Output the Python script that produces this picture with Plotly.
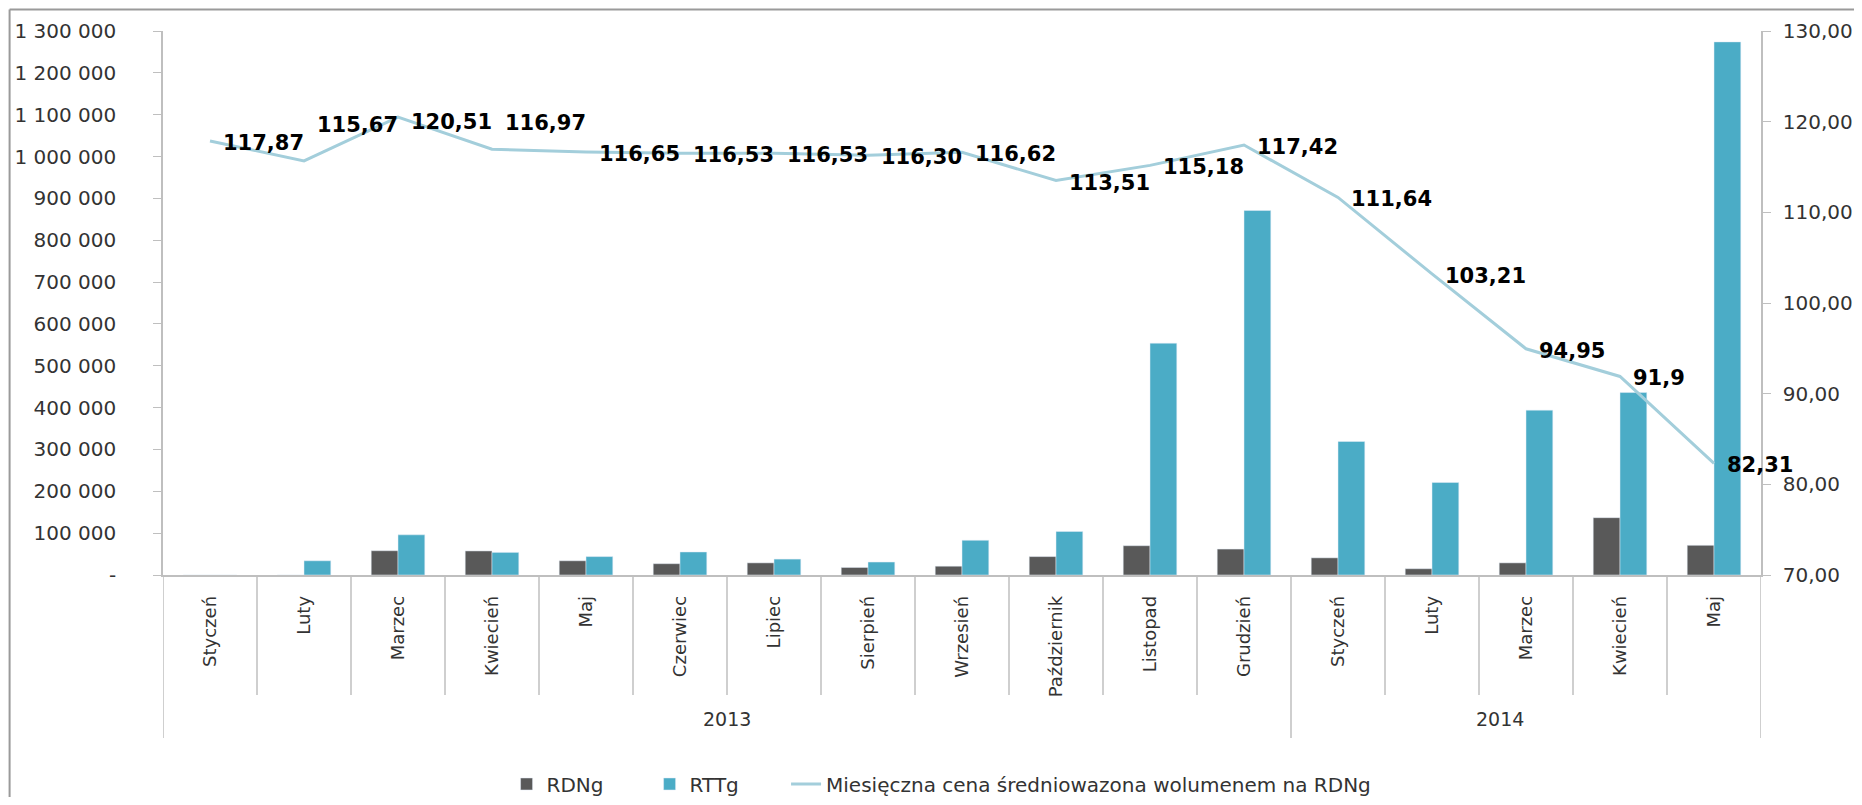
import plotly.graph_objects as go

# dane: wolumen RDNg / RTTg i cena srednioważona
months = ["Styczeń", "Luty", "Marzec", "Kwiecień", "Maj", "Czerwiec", "Lipiec", "Sierpień",
          "Wrzesień", "Październik", "Listopad", "Grudzień",
          "Styczeń", "Luty", "Marzec", "Kwiecień", "Maj"]
years = [2013] * 12 + [2014] * 5
rdng = [0, 0, 58000, 57500, 34000, 27000, 29000, 18000, 21000, 44000, 70000, 62000,
        41000, 15000, 29000, 137000, 71000]
rttg = [0, 34000, 96000, 54000, 44000, 55000, 38000, 31000, 83000, 104000, 554000, 871000,
        319000, 221000, 394000, 436000, 1274000]
price = [117.87, 115.67, 120.51, 116.97, 116.65, 116.53, 116.53, 116.30, 116.62, 113.51,
         115.18, 117.42, 111.64, 103.21, 94.95, 91.9, 82.31]
price_text = ["117,87", "115,67", "120,51", "116,97", "116,65", "116,53", "116,53", "116,30",
              "116,62", "113,51", "115,18", "117,42", "111,64", "103,21", "94,95", "91,9", "82,31"]

left_ticks = list(range(0, 1300001, 100000))
left_text = ["-"] + [f"{v:,}".replace(",", " ") for v in left_ticks[1:]]

keys = [f"{y} {m}" for y, m in zip(years, months)]
n = len(months)
FONT = "DejaVu Sans"
TXT = "#333333"

fig = go.Figure()
fig.add_trace(go.Bar(x=keys, y=rdng, name="RDNg", marker_color="#595959", legend="legend"))
fig.add_trace(go.Bar(x=keys, y=rttg, name="RTTg", marker_color="#4BACC6", legend="legend2"))
fig.add_trace(go.Scatter(x=keys, y=price, yaxis="y2", mode="lines", legend="legend3",
                         name="Miesięczna cena średniowazona wolumenem na RDNg",
                         line=dict(color="#A3CEDB", width=3)))

# etykiety ceny - po prawej stronie punktu
yshifts = [-2] * len(price)
yshifts[1] = 36
yshifts[3] = 26
yshifts[2] = -5
for k, p, t, ys in zip(keys, price, price_text, yshifts):
    fig.add_annotation(x=k, y=p, yref="y2", text=f"<b>{t}</b>", showarrow=False,
                       xanchor="left", yanchor="middle", xshift=11, yshift=ys,
                       font=dict(family=FONT, size=21, color="#000000"))

# linie podziału osi kategorii
year_edges = [-0.5] + [i - 0.5 for i in range(1, n) if years[i] != years[i - 1]] + [n - 0.5]
for i in range(n + 1):
    b = i - 0.5
    y1 = -0.2996 if b in year_edges else -0.2206
    fig.add_shape(type="line", xref="x", yref="paper", x0=b, x1=b, y0=0, y1=y1,
                  line=dict(color="#BFBFBF", width=1.5))

# etykiety lat
for a, b in zip(year_edges[:-1], year_edges[1:]):
    idx = int(a + 0.5)
    fig.add_annotation(xref="paper", yref="paper", x=((a + b) / 2 + 0.5) / n, y=-0.288,
                       text=str(years[idx]), showarrow=False,
                       font=dict(family=FONT, size=19, color=TXT))

# ramka wykresu
fig.add_shape(type="line", xref="paper", yref="paper", x0=-0.096, x1=1.07, y0=1.0395, y1=1.0395,
              line=dict(color="#9A9A9A", width=2))
fig.add_shape(type="line", xref="paper", yref="paper", x0=-0.096, x1=-0.096, y0=1.0395, y1=-0.43,
              line=dict(color="#9A9A9A", width=2))

leg = dict(orientation="h", yref="container", y=0.0165, yanchor="middle", xanchor="left",
           font=dict(size=20), itemwidth=30, bgcolor="rgba(0,0,0,0)")

# strona ma margines 8px, wiec rozmiar figury zmniejszony by nie bylo pasków przewijania
fig.update_layout(
    width=1846, height=789,
    margin=dict(l=155, r=93, t=23, b=222),
    plot_bgcolor="white", paper_bgcolor="white",
    barmode="group", bargap=0.43, bargroupgap=0,
    font=dict(family=FONT, size=20, color=TXT),
    showlegend=True,
    xaxis=dict(type="category", categoryorder="array", categoryarray=keys,
               range=[-0.5, n - 0.5], autorange=False,
               tickvals=keys, ticktext=months, tickangle=-90, automargin=False,
               showline=True, linecolor="#BFBFBF", linewidth=1.5, ticks="",
               ticklabelstandoff=12, tickfont=dict(size=18), showgrid=False),
    yaxis=dict(range=[0, 1300000], tickvals=left_ticks, ticktext=left_text, automargin=False,
               showline=True, linecolor="#BFBFBF", linewidth=1.5, ticks="outside",
               ticklen=8, tickcolor="#BFBFBF", showgrid=False, zeroline=False,
               ticklabelstandoff=33),
    yaxis2=dict(range=[70, 130], dtick=10, tickformat=".2f", overlaying="y", side="right",
                automargin=False, showline=True, linecolor="#BFBFBF", linewidth=1.5,
                ticks="outside", ticklen=8, tickcolor="#BFBFBF", showgrid=False,
                zeroline=False, ticklabelstandoff=8),
    separators=", ",
    legend=dict(leg, x=0.215),
    legend2=dict(leg, x=0.3045),
    legend3=dict(leg, x=0.3899),
)

fig.write_html("out.html")
